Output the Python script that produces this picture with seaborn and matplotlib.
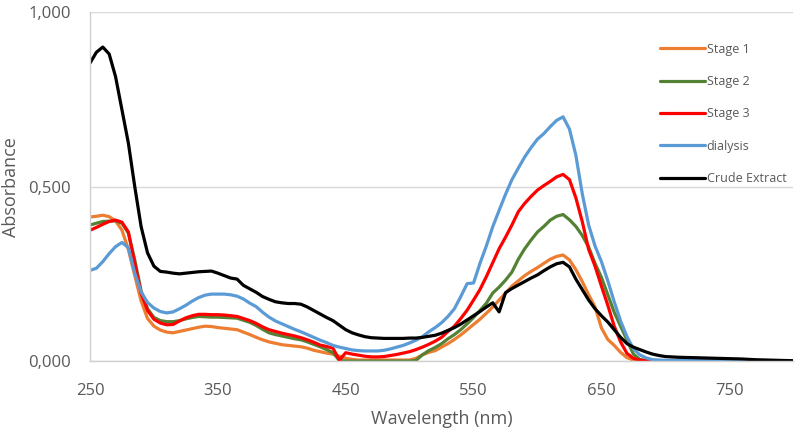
import pandas as pd
import numpy as np
import matplotlib
matplotlib.use("Agg")
import matplotlib.pyplot as plt
from matplotlib.ticker import FuncFormatter
import seaborn as sns

# wavelength grid (nm)
wavelength = [250, 255, 260, 265, 270, 275, 280, 285, 290, 295,
              300, 305, 310, 315, 320, 325, 330, 335, 340, 345,
              350, 355, 360, 365, 370, 375, 380, 385, 390, 395,
              400, 405, 410, 415, 420, 425, 430, 435, 440, 445,
              450, 455, 460, 465, 470, 475, 480, 485, 490, 495,
              500, 505, 510, 515, 520, 525, 530, 535, 540, 545,
              550, 555, 560, 565, 570, 575, 580, 585, 590, 595,
              600, 605, 610, 615, 620, 625, 630, 635, 640, 645,
              650, 655, 660, 665, 670, 675, 680, 685, 690, 695,
              700, 710, 720, 730, 740, 750, 760, 770, 780, 790, 800]

stage1 = [0.413, 0.415, 0.418, 0.414, 0.402, 0.375, 0.320, 0.245, 0.172, 0.122,
          0.100, 0.089, 0.083, 0.081, 0.085, 0.089, 0.093, 0.097, 0.100, 0.099,
          0.096, 0.094, 0.092, 0.090, 0.083, 0.076, 0.068, 0.061, 0.055, 0.051,
          0.047, 0.045, 0.043, 0.041, 0.037, 0.031, 0.027, 0.023, 0.020, 0.014,
          0.008, 0.005, 0.003, 0.003, 0.003, 0.003, 0.003, 0.003, 0.003, 0.003,
          0.003, 0.008, 0.018, 0.025, 0.030, 0.040, 0.050, 0.062, 0.075, 0.090,
          0.105, 0.120, 0.137, 0.155, 0.175, 0.195, 0.215, 0.230, 0.245, 0.257,
          0.268, 0.280, 0.292, 0.300, 0.304, 0.290, 0.262, 0.228, 0.190, 0.155,
          0.095, 0.062, 0.045, 0.025, 0.010, 0.003, 0.000, 0.000, 0.000, 0.000,
          0.000, 0.000, 0.000, 0.000, 0.000, 0.000, 0.000, 0.000, 0.000, 0.000, 0.000]

stage2 = [0.390, 0.395, 0.400, 0.401, 0.402, 0.395, 0.367, 0.290, 0.200, 0.150,
          0.125, 0.116, 0.113, 0.113, 0.116, 0.121, 0.125, 0.128, 0.127, 0.126,
          0.126, 0.125, 0.124, 0.123, 0.117, 0.111, 0.102, 0.091, 0.081, 0.076,
          0.072, 0.068, 0.064, 0.061, 0.055, 0.048, 0.041, 0.033, 0.024, 0.002,
          0.000, 0.000, 0.000, 0.000, 0.000, 0.000, 0.000, 0.000, 0.000, 0.000,
          0.000, 0.002, 0.018, 0.030, 0.039, 0.050, 0.064, 0.076, 0.090, 0.107,
          0.125, 0.145, 0.166, 0.195, 0.212, 0.232, 0.255, 0.292, 0.322, 0.347,
          0.370, 0.386, 0.404, 0.415, 0.420, 0.405, 0.386, 0.360, 0.327, 0.280,
          0.240, 0.190, 0.140, 0.100, 0.060, 0.020, 0.005, 0.001, 0.000, 0.000,
          0.000, 0.000, 0.000, 0.000, 0.000, 0.000, 0.000, 0.000, 0.000, 0.000, 0.000]

stage3 = [0.375, 0.383, 0.392, 0.400, 0.404, 0.398, 0.370, 0.280, 0.195, 0.145,
          0.120, 0.109, 0.104, 0.105, 0.115, 0.124, 0.130, 0.134, 0.134, 0.133,
          0.133, 0.132, 0.130, 0.128, 0.122, 0.116, 0.108, 0.098, 0.090, 0.085,
          0.080, 0.076, 0.072, 0.067, 0.061, 0.054, 0.046, 0.042, 0.037, 0.003,
          0.024, 0.020, 0.017, 0.014, 0.012, 0.012, 0.013, 0.016, 0.019, 0.023,
          0.027, 0.033, 0.040, 0.048, 0.057, 0.068, 0.085, 0.100, 0.122, 0.146,
          0.175, 0.205, 0.242, 0.282, 0.322, 0.355, 0.390, 0.428, 0.452, 0.472,
          0.490, 0.503, 0.515, 0.528, 0.535, 0.520, 0.468, 0.400, 0.320, 0.272,
          0.215, 0.160, 0.100, 0.055, 0.022, 0.008, 0.003, 0.001, 0.000, 0.000,
          0.000, 0.000, 0.000, 0.000, 0.000, 0.000, 0.000, 0.000, 0.000, 0.000, 0.000]

dialysis = [0.260, 0.266, 0.285, 0.308, 0.328, 0.340, 0.325, 0.252, 0.198, 0.168,
            0.152, 0.142, 0.138, 0.141, 0.150, 0.160, 0.172, 0.182, 0.189, 0.192,
            0.192, 0.192, 0.190, 0.186, 0.178, 0.166, 0.156, 0.140, 0.126, 0.115,
            0.107, 0.099, 0.091, 0.084, 0.076, 0.068, 0.060, 0.053, 0.045, 0.040,
            0.036, 0.032, 0.030, 0.029, 0.029, 0.029, 0.031, 0.035, 0.040, 0.045,
            0.052, 0.060, 0.070, 0.084, 0.096, 0.110, 0.128, 0.150, 0.185, 0.222,
            0.224, 0.280, 0.330, 0.385, 0.432, 0.478, 0.520, 0.553, 0.585, 0.612,
            0.636, 0.652, 0.672, 0.690, 0.700, 0.665, 0.590, 0.480, 0.390, 0.330,
            0.285, 0.230, 0.170, 0.115, 0.070, 0.035, 0.018, 0.009, 0.004, 0.003,
            0.002, 0.002, 0.002, 0.001, 0.001, 0.001, 0.001, 0.000, 0.000, 0.000, 0.000]

crude = [0.854, 0.885, 0.900, 0.880, 0.815, 0.720, 0.625, 0.500, 0.385, 0.310,
         0.272, 0.257, 0.255, 0.252, 0.250, 0.252, 0.254, 0.256, 0.257, 0.258,
         0.252, 0.245, 0.238, 0.235, 0.217, 0.207, 0.197, 0.185, 0.177, 0.170,
         0.167, 0.165, 0.165, 0.163, 0.155, 0.145, 0.135, 0.125, 0.116, 0.103,
         0.090, 0.081, 0.075, 0.070, 0.067, 0.066, 0.065, 0.065, 0.065, 0.065,
         0.066, 0.066, 0.068, 0.071, 0.074, 0.080, 0.088, 0.096, 0.106, 0.118,
         0.130, 0.142, 0.155, 0.167, 0.141, 0.196, 0.208, 0.218, 0.228, 0.238,
         0.247, 0.259, 0.270, 0.279, 0.283, 0.270, 0.235, 0.205, 0.175, 0.150,
         0.130, 0.112, 0.090, 0.068, 0.050, 0.040, 0.033, 0.026, 0.020, 0.016,
         0.013, 0.011, 0.010, 0.009, 0.008, 0.007, 0.006, 0.004, 0.003, 0.002, 0.001]

series_names = ["Stage 1", "Stage 2", "Stage 3", "dialysis", "Crude Extract"]
series_values = [stage1, stage2, stage3, dialysis, crude]
palette = {"Stage 1": "#ED7D31", "Stage 2": "#548235", "Stage 3": "#FF0000",
           "dialysis": "#5B9BD5", "Crude Extract": "#000000"}

frames = []
for name, vals in zip(series_names, series_values):
    frames.append(pd.DataFrame({"Wavelength": wavelength, "Absorbance": vals, "Sample": name}))
df = pd.concat(frames, ignore_index=True)

sns.set_theme(style="white")
plt.rcParams["font.family"] = ["Open Sans", "DejaVu Sans"]

fig = plt.figure(figsize=(8, 4.34), dpi=100)
ax = fig.add_axes([0.1125, 0.168, 0.879, 0.804])

sns.lineplot(data=df, x="Wavelength", y="Absorbance", hue="Sample",
             hue_order=series_names, palette=palette, linewidth=2.3,
             sort=False, ax=ax)

ax.set_xlim(250, 800)
ax.set_ylim(0, 1.0)
ax.set_xticks([250, 350, 450, 550, 650, 750])
ax.set_yticks([0, 0.5, 1.0])
ax.yaxis.set_major_formatter(FuncFormatter(lambda v, p: f"{v:.3f}".replace(".", ",")))
ax.grid(axis="y", color="#D9D9D9", linewidth=1.0)
ax.set_axisbelow(True)

for side in ["top", "right"]:
    ax.spines[side].set_visible(False)
for side in ["left", "bottom"]:
    ax.spines[side].set_color("#D0D0D0")
    ax.spines[side].set_linewidth(1.0)

ax.tick_params(axis="both", length=0, labelsize=12, labelcolor="#595959")
ax.tick_params(axis="x", pad=16)
ax.tick_params(axis="y", pad=14)
ax.set_xlabel("Wavelength (nm)", fontsize=13, color="#595959", labelpad=8)
ax.set_ylabel("Absorbance", fontsize=13, color="#595959")
ax.yaxis.set_label_coords(-0.1, 0.5)

ax.legend(title=None, frameon=False, loc="upper left", bbox_to_anchor=(0.795, 0.945),
          fontsize=9, handlelength=3.6, handletextpad=0.1, labelspacing=1.55,
          labelcolor="#595959")

plt.savefig("out.png", dpi=100)
